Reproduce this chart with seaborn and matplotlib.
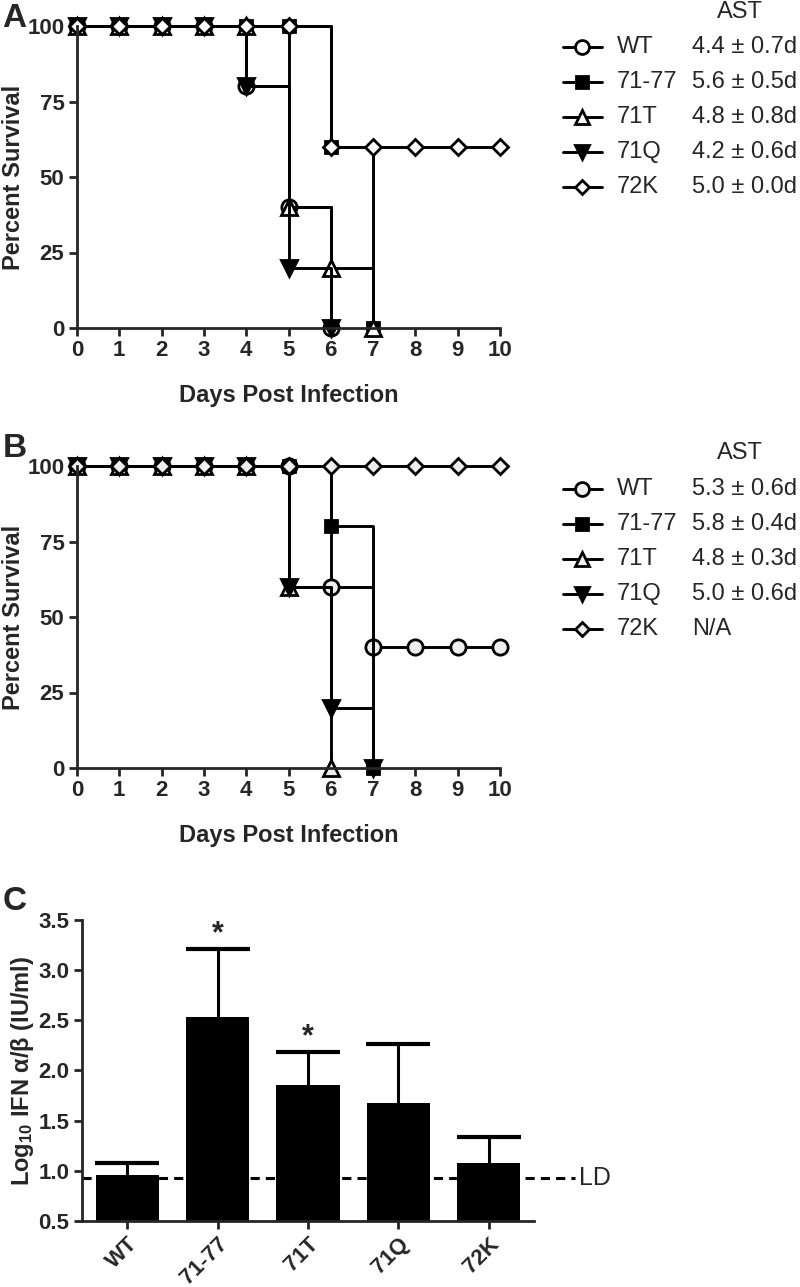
import matplotlib
matplotlib.use("Agg")
import matplotlib.pyplot as plt
from matplotlib.lines import Line2D
import seaborn as sns

days = list(range(11))
strains = ['WT', '71-77', '71T', '71Q', '72K']

# panel A survival (%), series stop after reaching 0
a_surv = {
    'WT':    [100, 100, 100, 100, 80, 40, 0],
    '71-77': [100, 100, 100, 100, 100, 100, 60, 0],
    '71T':   [100, 100, 100, 100, 100, 40, 20, 0],
    '71Q':   [100, 100, 100, 100, 80, 20, 0],
    '72K':   [100, 100, 100, 100, 100, 100, 60, 60, 60, 60, 60],
}
a_ast = ['4.4 \u00b1 0.7d', '5.6 \u00b1 0.5d', '4.8 \u00b1 0.8d', '4.2 \u00b1 0.6d', '5.0 \u00b1 0.0d']

# panel B survival (%)
b_surv = {
    'WT':    [100, 100, 100, 100, 100, 100, 60, 40, 40, 40, 40],
    '71-77': [100, 100, 100, 100, 100, 100, 80, 0],
    '71T':   [100, 100, 100, 100, 100, 60, 0],
    '71Q':   [100, 100, 100, 100, 100, 60, 20, 0],
    '72K':   [100, 100, 100, 100, 100, 100, 100, 100, 100, 100, 100],
}
b_ast = ['5.3 \u00b1 0.6d', '5.8 \u00b1 0.4d', '4.8 \u00b1 0.3d', '5.0 \u00b1 0.6d', 'N/A']

# panel C IFN
ifn_mean = [0.96, 2.53, 1.86, 1.68, 1.08]
ifn_sd = [0.12, 0.68, 0.32, 0.58, 0.26]
signif = [False, True, True, False, False]
ld = 0.93

sns.set_style('ticks')
plt.rcParams['font.family'] = ['Liberation Sans', 'DejaVu Sans']
plt.rcParams['mathtext.fontset'] = 'custom'
plt.rcParams['mathtext.bf'] = 'Liberation Sans:bold'
plt.rcParams['mathtext.rm'] = 'Liberation Sans:bold'
plt.rcParams['mathtext.default'] = 'bf'

W, H = 800, 1287
fig = plt.figure(figsize=(8, 12.87), dpi=100)

styles = {
    'WT':    dict(marker='o', markersize=11, fill='open'),
    '71-77': dict(marker='s', markersize=9, fill='k'),
    '71T':   dict(marker='^', markersize=11, fill='open'),
    '71Q':   dict(marker='v', markersize=11, fill='k'),
    '72K':   dict(marker='D', markersize=8, fill='open'),
}


def fx(px):
    return px / W


def fy(py):
    return 1 - py / H


def survival_panel(rect, surv, ast, open_fill, leg_y0, ast_y):
    ax = fig.add_axes(rect)
    for name in strains:
        st = styles[name]
        vals = surv[name]
        face = open_fill if st['fill'] == 'open' else 'black'
        sns.lineplot(x=days[:len(vals)], y=vals, ax=ax, drawstyle='steps-post',
                     color='black', linewidth=2.1, marker=st['marker'],
                     markersize=st['markersize'], markerfacecolor=face,
                     markeredgecolor='black', markeredgewidth=2,
                     errorbar=None, clip_on=False)
    ax.set_xlim(0, 10)
    ax.set_ylim(0, 100)
    ax.set_xticks(days)
    ax.set_yticks([0, 25, 50, 75, 100])
    ax.tick_params(width=2, length=6, labelsize=16, pad=3)
    for lab in ax.get_xticklabels() + ax.get_yticklabels():
        lab.set_fontweight('bold')
    for s in ['left', 'bottom']:
        ax.spines[s].set_linewidth(2)
    sns.despine(ax=ax)
    ax.set_xlabel('Days Post Infection', fontsize=17, fontweight='bold', labelpad=16)
    ax.set_ylabel('Percent Survival', fontsize=17, fontweight='bold', labelpad=2)

    # legend with AST column
    fig.text(fx(740), fy(ast_y), 'AST', fontsize=17, ha='center', va='center')
    for i, name in enumerate(strains):
        st = styles[name]
        y = fy(leg_y0 + 35 * i)
        face = open_fill if st['fill'] == 'open' else 'black'
        fig.add_artist(Line2D([fx(563), fx(602)], [y, y], transform=fig.transFigure,
                              color='black', lw=2.1))
        fig.add_artist(Line2D([fx(582)], [y], transform=fig.transFigure,
                              marker=st['marker'], markersize=st['markersize'] - 1,
                              markerfacecolor=face, markeredgecolor='black',
                              markeredgewidth=2, lw=0))
        fig.text(fx(617), y, name, fontsize=17, ha='left', va='center')
        fig.text(fx(692), y, ast[i], fontsize=17, ha='left', va='center')
    return ax


survival_panel([fx(77), fy(328), fx(500) - fx(77), (328 - 26) / H],
               a_surv, a_ast, 'white', 47, 12)
survival_panel([fx(77), fy(768), fx(500) - fx(77), (768 - 466) / H],
               b_surv, b_ast, '#eeeeee', 489, 453)

# panel C
axc = fig.add_axes([fx(82), fy(1221), (534 - 82) / W, (1221 - 920) / H])
axc.plot([-0.5, 4.95], [ld, ld], color='black', lw=2.2, ls='--', dashes=(3, 2),
         clip_on=False, zorder=1)
eb = axc.errorbar(range(len(strains)), ifn_mean, yerr=[[0] * len(strains), ifn_sd],
                  fmt='none', ecolor='black', elinewidth=2.2, capsize=23, capthick=3,
                  zorder=1.5)
eb[1][0].set_visible(False)  # no cap at bar top
sns.barplot(x=strains, y=ifn_mean, ax=axc, color='black', saturation=1,
            width=0.7, errorbar=None, edgecolor='black', linewidth=0, zorder=2)
for i, sig in enumerate(signif):
    if sig:
        axc.text(i, ifn_mean[i] + ifn_sd[i], '*', ha='center', va='bottom',
                 fontsize=22, fontweight='bold')
axc.text(5.0, ld, 'LD', fontsize=18, ha='left', va='center')
axc.set_xlim(-0.5, 4.5)
axc.set_ylim(0.5, 3.5)
axc.set_yticks([0.5, 1.0, 1.5, 2.0, 2.5, 3.0, 3.5])
axc.set_yticklabels(['%.1f' % v for v in [0.5, 1.0, 1.5, 2.0, 2.5, 3.0, 3.5]])
axc.tick_params(width=2, length=6, labelsize=16, pad=3)
axc.set_xticks(range(len(strains)))
axc.set_xticklabels(strains, rotation=45, ha='right', rotation_mode='anchor')
for lab in axc.get_xticklabels() + axc.get_yticklabels():
    lab.set_fontweight('bold')
for s in ['left', 'bottom']:
    axc.spines[s].set_linewidth(2)
sns.despine(ax=axc)
axc.set_xlabel('')
axc.set_ylabel('Log$_{10}$ IFN \u03b1/\u03b2 (IU/ml)', fontsize=17, fontweight='bold',
               labelpad=2)

fig.text(0.003, fy(3), 'A', fontsize=24, fontweight='bold', va='top', ha='left')
fig.text(0.003, fy(433), 'B', fontsize=24, fontweight='bold', va='top', ha='left')
fig.text(0.003, fy(886), 'C', fontsize=24, fontweight='bold', va='top', ha='left')

fig.savefig('out.png', dpi=100)
